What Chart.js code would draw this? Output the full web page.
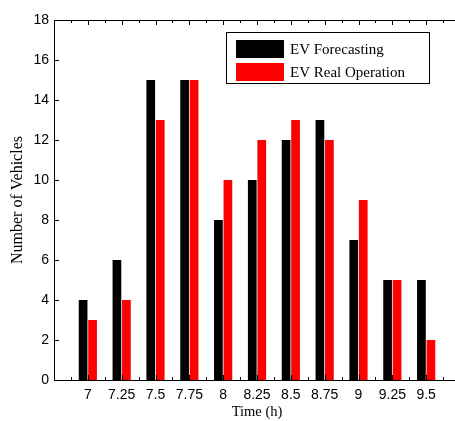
<!DOCTYPE html>
<html>
<head>
<meta charset="utf-8">
<script src="https://cdn.jsdelivr.net/npm/chart.js@4"></script>
<style>
  html, body { margin: 0; padding: 0; background: #fff; overflow: hidden; }
  canvas { display: block; }
</style>
</head>
<body>
<canvas id="chart-ev" width="462" height="421"></canvas>
<script>
var times = [7, 7.25, 7.5, 7.75, 8, 8.25, 8.5, 8.75, 9, 9.25, 9.5];
var forecasting = [4, 6, 15, 15, 8, 10, 12, 13, 7, 5, 5];
var realOperation = [3, 4, 13, 15, 10, 12, 13, 12, 9, 5, 2];
var yTicks = [0, 2, 4, 6, 8, 10, 12, 14, 16, 18];

var sans = 'Liberation Sans'
var serif = 'Liberation Serif'

function points(values) {
    return times.map(function (t, i) { return { x: t, y: values[i] } });
}

// inward tick marks + top frame + legend box, MATLAB style
var frame = {
    id: 'frame',
    afterDatasetsDraw: function (chart) {
        var c = chart.ctx, a = chart.chartArea;
        var xs = chart.scales.x, ys = chart.scales.y;
        c.save();
        c.strokeStyle = '#000';
        c.lineWidth = 1;
        c.beginPath();
        c.moveTo(a.left, a.top + 0.5);
        c.lineTo(a.right, a.top + 0.5);
        for (var v = 6.875; v < 9.7; v += 0.125) {
            var px = Math.round(xs.getPixelForValue(v)) + 0.5;
            var len = (Math.abs(v * 4 - Math.round(v * 4)) < 0.01) ? 5 : 3;
            c.moveTo(px, a.bottom);
            c.lineTo(px, a.bottom - len);
            c.moveTo(px, a.top);
            c.lineTo(px, a.top + len);
        }
        yTicks.forEach(function (t) {
            var py = Math.round(ys.getPixelForValue(t)) + 0.5;
            c.moveTo(a.left, py);
            c.lineTo(a.left + 5, py);
        });
        c.stroke();

        var bx = 226.5, by = 32.5, bw = 203, bh = 51;
        c.fillStyle = '#fff';
        c.fillRect(bx, by, bw, bh);
        c.strokeRect(bx, by, bw, bh);
        c.font = '15px ' + serif;
        c.textBaseline = 'middle';
        chart.data.datasets.forEach(function (ds, i) {
            var ry = 40 + i * 23;
            c.fillStyle = ds.backgroundColor;
            c.fillRect(236, ry, 48, 18);
            c.fillStyle = '#000';
            c.fillText(ds.label, 290, ry + 10);
        });
        c.restore();
    }
};

var ctx = document.getElementById('chart-ev').getContext('2d');

var evChart = new Chart(ctx, {
    type: 'bar',
    data: {
        datasets: [{
            label: 'EV Forecasting',
            data: points(forecasting),
            backgroundColor: '#000000',
            barPercentage: 0.92,
            categoryPercentage: 0.56
        },
        {
            label: 'EV Real Operation',
            data: points(realOperation),
            backgroundColor: '#ff0000',
            barPercentage: 0.92,
            categoryPercentage: 0.56
        }]
    },

    options: {
        responsive: false,
        animation: false,
        plugins: {
            legend: { display: false },
            tooltip: { enabled: false }
        },
        layout: {
            padding: { top: 20, right: 2, bottom: 0, left: 0 }
        },
        scales: {
            x: {
                type: 'linear',
                offset: false,
                min: 6.75,
                max: 9.75,
                grid: { display: false, drawTicks: false, offset: false },
                border: { display: true, color: '#000', width: 1 },
                afterBuildTicks: function (scale) {
                    scale.ticks = times.map(function (t) { return { value: t } });
                },
                afterFit: function (scale) { scale.height = 41 },
                ticks: {
                    autoSkip: false,
                    maxRotation: 0,
                    padding: 7,
                    color: '#000',
                    font: { family: sans, size: 14 },
                    callback: function (v) { return String(v) }
                },
                title: {
                    display: true,
                    text: 'Time (h)',
                    color: '#000',
                    font: { family: serif, size: 14.5 },
                    padding: { top: 5, bottom: 0 }
                }
            },
            y: {
                min: 0,
                max: 18,
                grid: { display: false, drawTicks: false },
                border: { display: true, color: '#000', width: 1 },
                afterBuildTicks: function (scale) {
                    scale.ticks = yTicks.map(function (t) { return { value: t } });
                },
                afterFit: function (scale) { scale.width = 54 },
                ticks: {
                    padding: 5,
                    color: '#000',
                    font: { family: sans, size: 14 }
                },
                title: {
                    display: true,
                    text: 'Number of Vehicles',
                    color: '#000',
                    font: { family: serif, size: 16 },
                    padding: { top: 8, bottom: 0 }
                }
            }
        }
    },
    plugins: [frame]
});
</script>
</body>
</html>
